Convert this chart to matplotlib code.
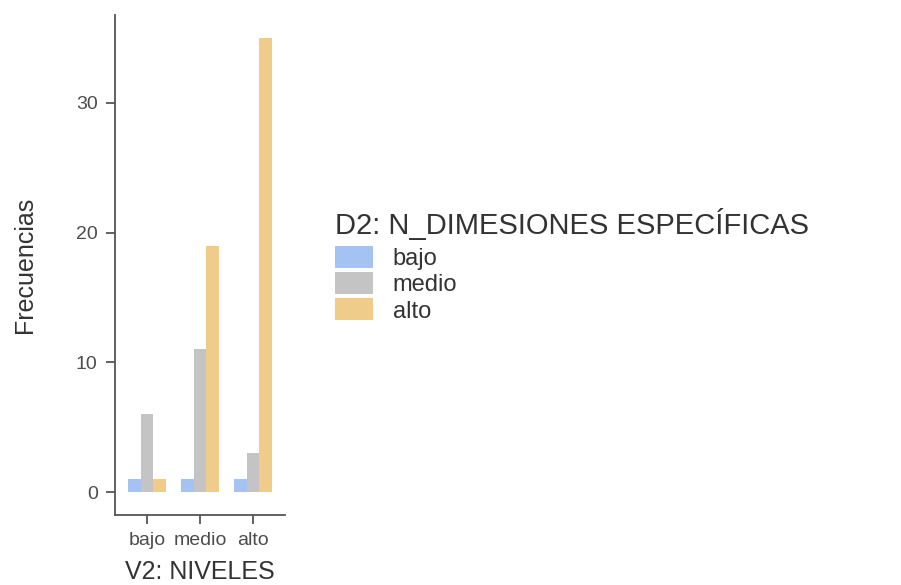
import numpy as np
import matplotlib.pyplot as plt

# data
niveles = ["bajo", "medio", "alto"]          # V2 categories (x axis)
grupos = ["bajo", "medio", "alto"]           # D2 categories (legend)
frec_bajo = [1, 1, 1]
frec_medio = [6, 11, 3]
frec_alto = [1, 19, 35]
colores = ["#a4c2f2", "#c4c4c4", "#f0cc8a"]

plt.rcParams['font.family'] = ['Liberation Sans', 'DejaVu Sans']

fig = plt.figure(figsize=(9.01, 5.85), dpi=100)
ax = fig.add_axes([115 / 901, 70 / 585, 170 / 901, 500 / 585])

x = np.arange(len(niveles))
w = 0.235
for i, (vals, nombre) in enumerate(zip([frec_bajo, frec_medio, frec_alto], grupos)):
    ax.bar(x + (i - 1) * w, vals, width=w, color=colores[i], label=nombre)

ax.set_xlim(-0.6, 2.6)
ax.set_ylim(-1.75, 36.75)
ax.set_yticks([0, 10, 20, 30])
ax.set_xticks(x)
ax.set_xticklabels(niveles)

for s in ["top", "right"]:
    ax.spines[s].set_visible(False)
for s in ["left", "bottom"]:
    ax.spines[s].set_color("#555555")
    ax.spines[s].set_linewidth(1.3)
ax.tick_params(colors="#555555", labelcolor="#4d4d4d", labelsize=14, length=6.5, width=1.3, pad=6)

ax.set_ylabel("Frecuencias", fontsize=18, color="#333333", labelpad=28)
ax.set_xlabel("V2: NIVELES", fontsize=18, color="#333333", labelpad=8)

leg = fig.legend(loc="upper left", bbox_to_anchor=(335 / 901, 1 - 208 / 585),
                 title="D2: N_DIMESIONES ESPECÍFICAS", title_fontsize=21, fontsize=17,
                 frameon=False, handlelength=1.6, handleheight=1.06, labelspacing=0.1,
                 handletextpad=0.85, borderpad=0, borderaxespad=0, alignment="left")
leg._legend_box.sep = 4  # gap between title and keys
leg.get_title().set_color("#333333")
for t in leg.get_texts():
    t.set_color("#333333")

fig.savefig("out.png", dpi=100)
